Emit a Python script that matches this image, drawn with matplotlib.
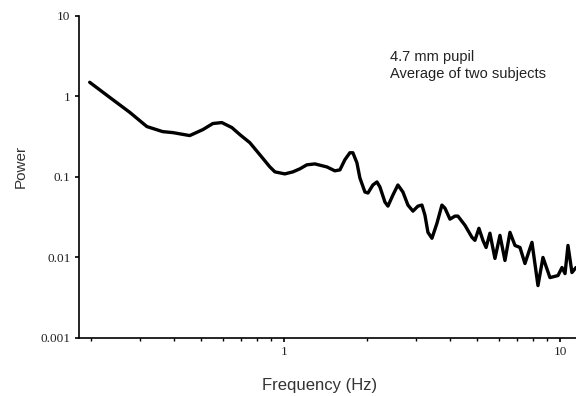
import matplotlib
matplotlib.use("Agg")
import matplotlib.pyplot as plt
from matplotlib.ticker import LogLocator, FixedLocator, NullFormatter

# Power spectrum (frequency in Hz, power)
freq = [0.198, 0.234, 0.277, 0.319, 0.364, 0.396, 0.456, 0.509, 0.553, 0.596,
        0.648, 0.693, 0.753, 0.819, 0.890, 0.928, 1.008, 1.078, 1.143, 1.211,
        1.295, 1.432, 1.530, 1.596, 1.663, 1.734, 1.778, 1.839, 1.885, 1.966,
        2.016, 2.101, 2.173, 2.228, 2.323, 2.382, 2.483, 2.588, 2.699, 2.814,
        2.934, 3.059, 3.162, 3.243, 3.325, 3.438, 3.585, 3.736, 3.831, 3.995,
        4.165, 4.270, 4.527, 4.799, 4.920, 5.087, 5.260, 5.400, 5.576, 5.814,
        6.062, 6.320, 6.590, 6.871, 7.164, 7.467, 7.917, 8.324, 8.678, 9.200,
        9.835, 10.17, 10.43, 10.69, 11.05, 11.43]
power = [1.496, 0.972, 0.631, 0.422, 0.365, 0.355, 0.326, 0.387, 0.460, 0.473,
         0.410, 0.335, 0.266, 0.188, 0.133, 0.1155, 0.109, 0.1155, 0.126, 0.1413,
         0.145, 0.133, 0.119, 0.1223, 0.1632, 0.1995, 0.1995, 0.1496, 0.0972, 0.0649,
         0.0631, 0.0794, 0.0866, 0.0750, 0.0487, 0.0434, 0.0596, 0.0794, 0.0649, 0.0447,
         0.0376, 0.0434, 0.0447, 0.0335, 0.0205, 0.0173, 0.0266, 0.0447, 0.0410, 0.0299,
         0.0326, 0.0326, 0.0251, 0.0178, 0.0163, 0.0230, 0.0163, 0.0133, 0.0200, 0.00972,
         0.0188, 0.00917, 0.0205, 0.0141, 0.0133, 0.00841, 0.0154, 0.00447, 0.0100, 0.00562,
         0.00596, 0.0075, 0.0063, 0.0141, 0.0065, 0.0075]

ytick_vals = [0.001, 0.01, 0.1, 1, 10]
ytick_labels = ["0.001", "0.01", "0.1", "1", "10"]
xtick_vals = [1, 10]
xtick_labels = ["1", "10"]
note = "4.7 mm pupil\nAverage of two subjects"

fig = plt.figure(figsize=(5.76, 3.96), dpi=100)
ax = fig.add_axes((0.137, 0.1465, 0.863, 0.8135))

ax.plot(freq, power, color="black", lw=2.4, solid_joinstyle="round",
        solid_capstyle="round")

ax.set_xscale("log")
ax.set_yscale("log")
ax.set_xlim(0.181, 11.43)
ax.set_ylim(0.001, 10)

for side in ("top", "right"):
    ax.spines[side].set_visible(False)
for side in ("left", "bottom"):
    ax.spines[side].set_linewidth(1.2)

ax.yaxis.set_major_locator(FixedLocator(ytick_vals))
ax.set_yticklabels(ytick_labels)
ax.yaxis.set_minor_locator(FixedLocator([]))
ax.xaxis.set_major_locator(FixedLocator(xtick_vals))
ax.set_xticklabels(xtick_labels)
ax.xaxis.set_minor_locator(LogLocator(base=10, subs=range(2, 10)))
ax.xaxis.set_minor_formatter(NullFormatter())

ax.tick_params(axis="both", which="major", direction="out", length=3, width=1.2,
               pad=3, labelsize=9.5, labelcolor="#222222")
ax.tick_params(axis="x", which="minor", direction="out", length=2, width=1.0)
for lab in ax.get_xticklabels() + ax.get_yticklabels():
    lab.set_family("Liberation Serif")

ax.set_xlabel("Frequency (Hz)", family="Liberation Sans", fontsize=12,
              color="#333333")
ax.xaxis.set_label_coords(0.485, -0.125)
ax.set_ylabel("Power", family="Liberation Sans", fontsize=11, color="#333333")
ax.yaxis.set_label_coords(-0.1026, 0.531)

fig.text(0.677, 0.875, note, family="Liberation Sans", fontsize=10.5,
         color="#222222", va="top", ha="left", linespacing=1.35)

fig.savefig("out.png", dpi=100)
